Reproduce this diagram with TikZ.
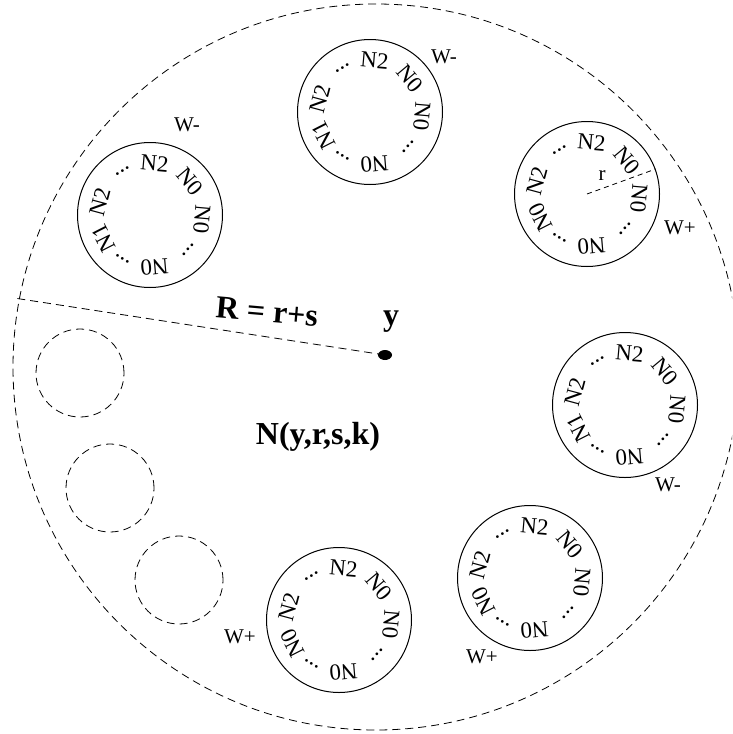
\documentclass[tikz,border=0pt]{standalone}
\usepackage{fontspec}
\setmainfont{Liberation Serif}
\newfontfamily\tms{Liberation Serif}
\usetikzlibrary{shapes.geometric}
\begin{document}
\begin{tikzpicture}[x=1pt,y=-1pt,
  ring/.style={circle, draw, line width=1pt, minimum size=145pt, inner sep=0pt},
  ghost/.style={circle, draw, line width=0.8pt, dash pattern=on 8pt off 5pt, minimum size=88pt, inner sep=0pt},
  bigdash/.style={line width=0.8pt, dash pattern=on 8pt off 5pt},
  lab/.style={font=\tms\fontsize{23}{23}\selectfont, inner sep=0pt},
  wlab/.style={font=\tms\fontsize{21}{21}\selectfont, inner sep=0pt},
  big/.style={font=\tms\bfseries\fontsize{32}{32}\selectfont, inner sep=0pt}]
\useasboundingbox (0,0) rectangle (732,734);
\clip (0,0) rectangle (732,734);

% outer dashed circle
\draw[bigdash] (376,367) circle (363);

% rings with labels
\foreach \n/\cx/\cy/\ll in {1/150/215/N1, 2/370/112/N1, 3/587/194/N0, 4/625/405/N1, 5/530/578/N0, 6/339/620/N0}{
  \node[ring] (c\n) at (\cx,\cy) {};
  \foreach \i/\a/\t in {1/122/{...}, 2/85/N2, 3/40/N0, 4/-5/N0, 5/-42/{...}, 6/-85/N0, 7/-122/{...}, 8/-153/\ll, 9/165/N2}{
    \node[lab, rotate=\a-90] (t\n-\i) at ({\cx+52*cos(\a)},{\cy-52*sin(\a)}) {\t};
  }
}

% radius r in ring 3
\draw[line width=0.8pt, dash pattern=on 5pt off 4pt] (c3.center) -- (c3.20);
\node[wlab] (rlab) at (602,176) {r};

% dashed empty circles
\node[ghost] (g1) at (80,373) {};
\node[ghost] (g2) at (110,488) {};
\node[ghost] (g3) at (179,580) {};

% W labels
\node[wlab] (w1) at (187,125) {W-};
\node[wlab] (w2) at (444,57) {W-};
\node[wlab] (w3) at (680,228) {W+};
\node[wlab] (w4) at (668,485) {W-};
\node[wlab] (w5) at (482,657) {W+};
\node[wlab] (w6) at (240,637) {W+};

% center point y and radius R
\node[ellipse, fill, minimum width=14pt, minimum height=10pt, inner sep=0pt] (ydot) at (385,355) {};
\coordinate (redge) at (14,298);
\draw[bigdash] (ydot.center) -- (redge);
\node[big] (ylab) at (391,322) {y};
\node[big, rotate=-5] (Rlab) at (267,312) {R = r+s};
\node[big] (Nlab) at (318,437) {N(y,r,s,k)};
\end{tikzpicture}
\end{document}
